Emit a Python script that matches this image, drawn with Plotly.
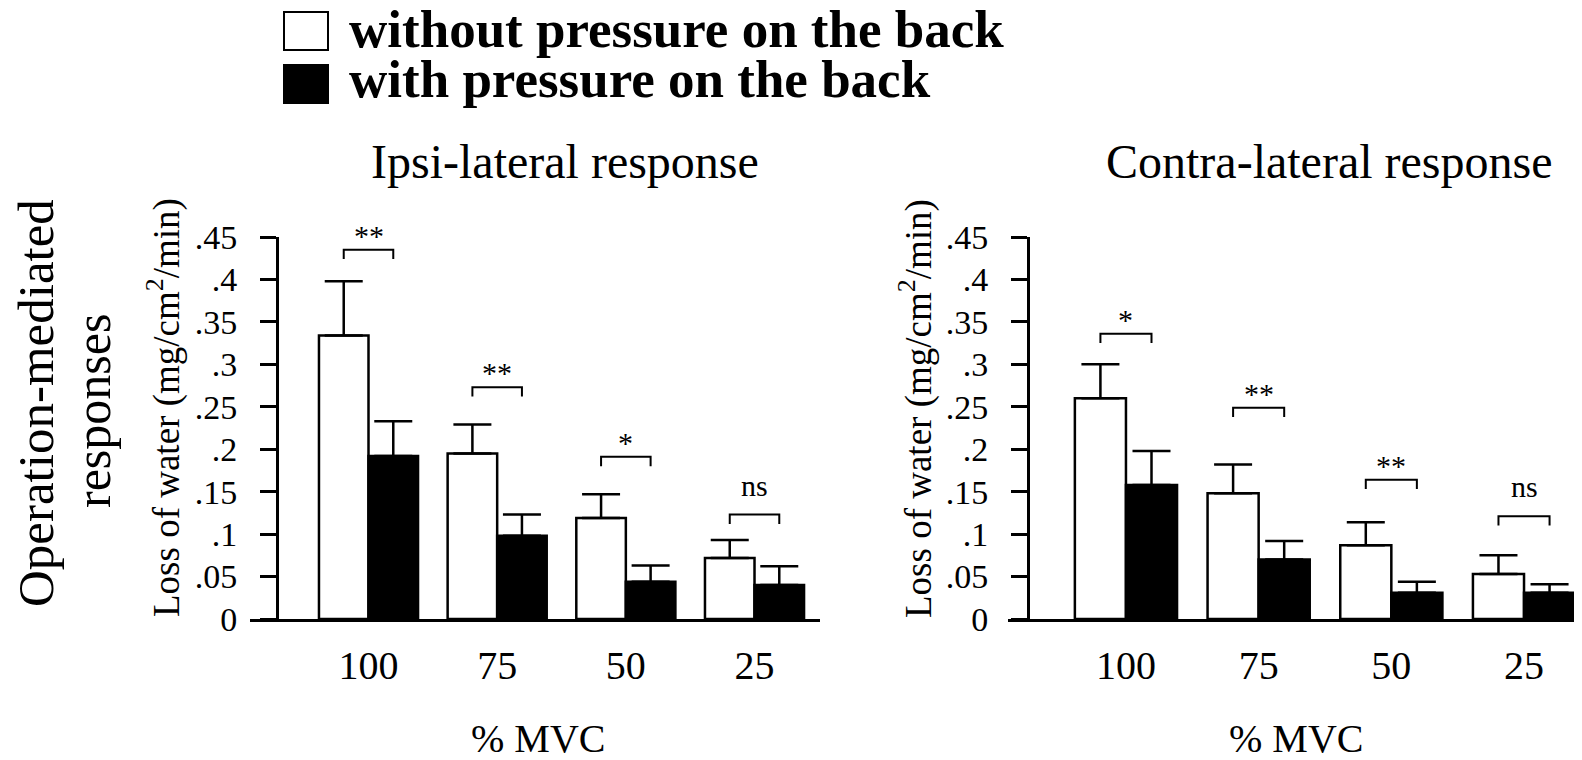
import plotly.graph_objects as go

# ---------------- data ----------------
categories = ["100", "75", "50", "25"]
cat_pos = [0, 1, 2, 3]

ipsi_without = [0.334, 0.195, 0.119, 0.072]
ipsi_without_err = [0.064, 0.034, 0.028, 0.021]
ipsi_with = [0.192, 0.098, 0.044, 0.040]
ipsi_with_err = [0.041, 0.025, 0.019, 0.022]
ipsi_bracket = [0.435, 0.273, 0.191, 0.123]
ipsi_sig = ["**", "**", "*", "ns"]

contra_without = [0.260, 0.148, 0.087, 0.053]
contra_without_err = [0.040, 0.034, 0.027, 0.022]
contra_with = [0.158, 0.070, 0.031, 0.031]
contra_with_err = [0.040, 0.022, 0.013, 0.010]
contra_bracket = [0.336, 0.249, 0.164, 0.121]
contra_sig = ["*", "**", "**", "ns"]

ytick_vals = [0, 0.05, 0.1, 0.15, 0.2, 0.25, 0.3, 0.35, 0.4, 0.45]
ytick_text = ["0", ".05", ".1", ".15", ".2", ".25", ".3", ".35", ".4", ".45"]

# ---------------- style ----------------
W, H = 1582, 760
OFF = 8  # page body margin
SERIF = "Liberation Serif, Times New Roman, serif"
BARGAP = 0.23
LEG = 0.011


def px(x):
    return (x - OFF) / W


def py(y):
    return 1 - (y - OFF) / H


fig = go.Figure()

panels = [
    dict(xa="x", ya="y", w=ipsi_without, we=ipsi_without_err, b=ipsi_with, be=ipsi_with_err,
         br=ipsi_bracket, sig=ipsi_sig),
    dict(xa="x2", ya="y2", w=contra_without, we=contra_without_err, b=contra_with, be=contra_with_err,
         br=contra_bracket, sig=contra_sig),
]

off = (1 - BARGAP) / 4
annotations = []
for p in panels:
    fig.add_trace(go.Bar(
        x=cat_pos, y=p["w"], xaxis=p["xa"], yaxis=p["ya"],
        marker=dict(color="white", line=dict(color="black", width=2.5)),
        error_y=dict(type="data", array=p["we"], arrayminus=[0] * 4, symmetric=False,
                     color="black", thickness=2.5, width=19),
        showlegend=False, name="without pressure on the back",
    ))
    fig.add_trace(go.Bar(
        x=cat_pos, y=p["b"], xaxis=p["xa"], yaxis=p["ya"],
        marker=dict(color="black", line=dict(color="black", width=2.5)),
        error_y=dict(type="data", array=p["be"], arrayminus=[0] * 4, symmetric=False,
                     color="black", thickness=2.5, width=19),
        showlegend=False, name="with pressure on the back",
    ))
    bx, by = [], []
    for c, h in zip(cat_pos, p["br"]):
        bx += [c - off, c - off, c + off, c + off, None]
        by += [h - LEG, h, h, h - LEG, None]
    fig.add_trace(go.Scatter(x=bx, y=by, mode="lines", xaxis=p["xa"], yaxis=p["ya"],
                             line=dict(color="black", width=2), showlegend=False,
                             hoverinfo="skip"))
    for c, h, s in zip(cat_pos, p["br"], p["sig"]):
        annotations.append(dict(
            x=c, y=h, xref=p["xa"], yref=p["ya"], text=s, showarrow=False,
            yanchor="bottom", yshift=(11 if s == "ns" else -4),
            font=dict(family=SERIF, size=30, color="black"),
        ))

axis_common = dict(showgrid=False, zeroline=False, showline=True, linecolor="black", linewidth=3,
                   automargin=False)
xcommon = dict(axis_common, tickmode="array", tickvals=cat_pos, ticktext=categories,
               ticks="", tickfont=dict(family=SERIF, size=40, color="black"), ticklabelstandoff=9)
ycommon = dict(axis_common, range=[0, 0.45], tickmode="array", tickvals=ytick_vals,
               ticktext=ytick_text, ticks="outside", ticklen=16, tickwidth=3, tickcolor="black",
               tickfont=dict(family=SERIF, size=34, color="black"), ticklabelstandoff=16,
               anchor="free", domain=[py(619), py(237)])

fig.update_layout(
    width=W, height=H, autosize=False,
    margin=dict(l=0, r=0, t=0, b=0, pad=0, autoexpand=False),
    paper_bgcolor="white", plot_bgcolor="white",
    barmode="group", bargap=BARGAP, bargroupgap=0,
    xaxis=dict(xcommon, domain=[px(250), px(820)], range=[-0.921, 3.509], anchor="y"),
    yaxis=dict(ycommon, position=px(277)),
    xaxis2=dict(xcommon, domain=[px(1008), px(1582)], range=[-0.889, 3.437], anchor="y2"),
    yaxis2=dict(ycommon, position=px(1028)),
    showlegend=False,
)

big = dict(family=SERIF, color="black")
annotations += [
    dict(text="Ipsi-lateral response", x=px(565), y=py(161), font=dict(big, size=48)),
    dict(text="Contra-lateral response", x=px(1329), y=py(161), font=dict(big, size=48)),
    dict(text="% MVC", x=px(538), y=py(738), font=dict(big, size=40)),
    dict(text="% MVC", x=px(1296), y=py(738), font=dict(big, size=40)),
    dict(text="Loss of water (mg/cm<sup>2</sup>/min)", x=px(164), y=py(408), textangle=-90,
         font=dict(big, size=37)),
    dict(text="Loss of water (mg/cm<sup>2</sup>/min)", x=px(916), y=py(408), textangle=-90,
         font=dict(big, size=37)),
    dict(text="Operation-mediated", x=px(36), y=py(403), textangle=-90, borderpad=0,
         font=dict(big, size=51)),
    dict(text="responses", x=px(93), y=py(411), textangle=-90, borderpad=0,
         font=dict(big, size=50)),
    dict(text="<b>without pressure on the back</b>", x=px(348), y=py(29), xanchor="left",
         borderpad=0, font=dict(big, size=53)),
    dict(text="<b>with pressure on the back</b>", x=px(348), y=py(79), xanchor="left",
         borderpad=0, font=dict(big, size=53)),
]
for a in annotations:
    a.setdefault("xref", "paper")
    a.setdefault("yref", "paper")
    a.setdefault("showarrow", False)
    a.setdefault("xanchor", "center")
    a.setdefault("yanchor", "middle")
fig.update_layout(annotations=annotations)

fig.add_shape(type="rect", xref="paper", yref="paper", x0=px(284), x1=px(328), y0=py(50), y1=py(12),
              line=dict(color="black", width=2), fillcolor="white")
fig.add_shape(type="rect", xref="paper", yref="paper", x0=px(284), x1=px(328), y0=py(103), y1=py(65),
              line=dict(color="black", width=2), fillcolor="black")

fig.write_html("out.html")
